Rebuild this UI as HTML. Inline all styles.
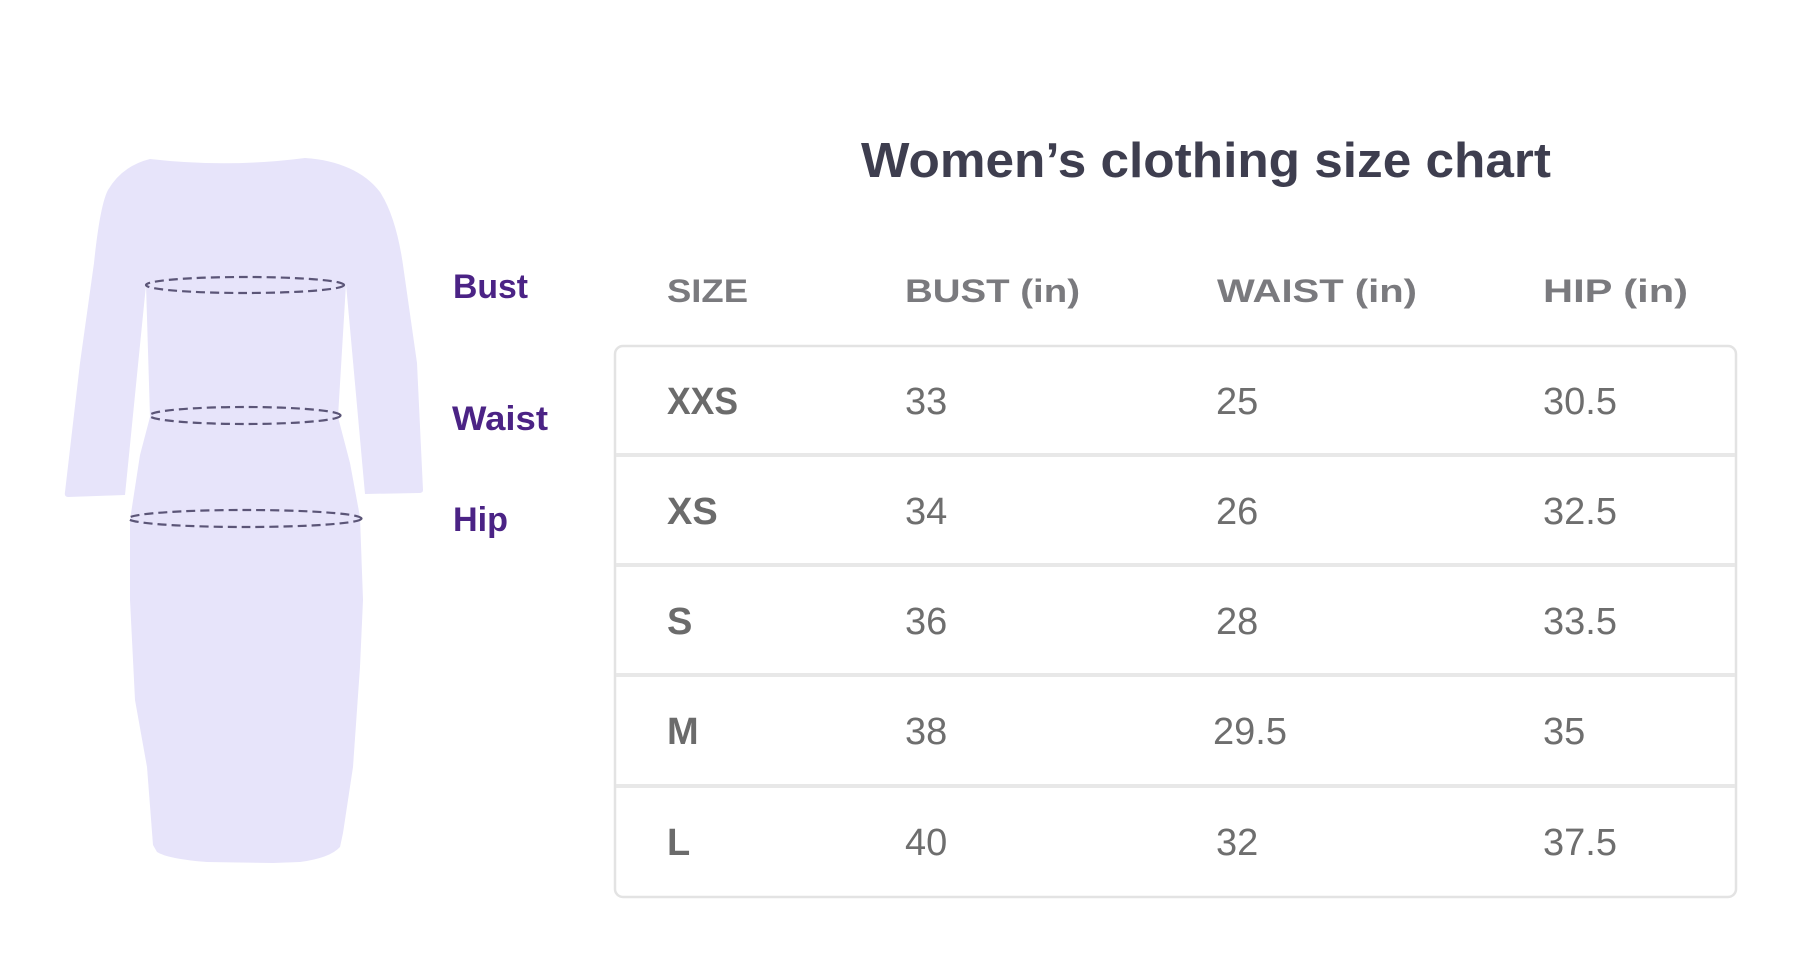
<!DOCTYPE html>
<html>
<head>
<meta charset="utf-8">
<style>
  html, body { margin: 0; padding: 0; background: #ffffff; }
  body { width: 1800px; height: 960px; overflow: hidden; }
  svg { display: block; }
  .hdr { font-family: "Liberation Sans", sans-serif; font-weight: bold; font-size: 32px; fill: #7a7a7e; }
  .sz { font-family: "Liberation Sans", sans-serif; font-weight: bold; font-size: 38px; fill: #6b6b6b; }
  .num { font-family: "Liberation Sans", sans-serif; font-size: 38px; fill: #6e6e6e; }
  .lbl { font-family: "Liberation Sans", sans-serif; font-weight: bold; font-size: 34px; fill: #4b2385; }
  .title { font-family: "Liberation Sans", sans-serif; font-weight: bold; font-size: 49px; fill: #3e3e4f; }
</style>
</head>
<body>
<svg width="1800" height="960" viewBox="0 0 1800 960" xmlns="http://www.w3.org/2000/svg">
  <rect x="0" y="0" width="1800" height="960" fill="#ffffff"/>

  <!-- Dress -->
  <path fill="#e7e4fa" d="
    M150,159
    Q228,168 305,158
    C338,160 365,172 380,192
    Q397,218 404,272
    L417,363
    L423,490
    Q423,493 419,493
    L365,494
    L346,284
    L338,417
    L350,463
    L360,517
    L363,600
    L360,667
    L353,767
    L343,833
    L340,847
    Q330,858 300,862
    L273,863
    L207,862
    Q168,859 157,852
    L153,845
    L147,767
    L135,700
    L130,600
    L130,520
    L140,455
    L150,417
    L146,285
    L125,495
    L68,497
    Q64,497 65,492
    L80,363
    L94,263
    Q100,205 108,190
    Q122,166 150,159 Z"/>

  <!-- Measurement ellipses -->
  <g fill="none" stroke="#5b5577" stroke-width="2.2" stroke-dasharray="9 5">
    <ellipse cx="245" cy="285" rx="99" ry="8"/>
    <ellipse cx="245" cy="415.5" rx="95.5" ry="8.5"/>
    <ellipse cx="245" cy="518.5" rx="116.5" ry="8.5"/>
  </g>

  <!-- Labels -->
  <text class="lbl" x="453" y="298" textLength="75" lengthAdjust="spacingAndGlyphs">Bust</text>
  <text class="lbl" x="452" y="430" textLength="96" lengthAdjust="spacingAndGlyphs">Waist</text>
  <text class="lbl" x="453" y="531" textLength="55" lengthAdjust="spacingAndGlyphs">Hip</text>

  <!-- Title -->
  <text class="title" x="861" y="177" textLength="690" lengthAdjust="spacingAndGlyphs">Women’s clothing size chart</text>

  <!-- Header -->
  <text class="hdr" x="667" y="302" textLength="81" lengthAdjust="spacingAndGlyphs">SIZE</text>
  <text class="hdr" x="905" y="302" textLength="175" lengthAdjust="spacingAndGlyphs">BUST (in)</text>
  <text class="hdr" x="1217" y="302" textLength="200" lengthAdjust="spacingAndGlyphs">WAIST (in)</text>
  <text class="hdr" x="1543" y="302" textLength="145" lengthAdjust="spacingAndGlyphs">HIP (in)</text>

  <!-- Table -->
  <rect x="615" y="346" width="1121" height="551" rx="8" ry="8" fill="#ffffff" stroke="#e3e3e3" stroke-width="2.5"/>
  <g stroke="#e8e8e8" stroke-width="4">
    <line x1="616" y1="455" x2="1735" y2="455"/>
    <line x1="616" y1="565" x2="1735" y2="565"/>
    <line x1="616" y1="675" x2="1735" y2="675"/>
    <line x1="616" y1="786" x2="1735" y2="786"/>
  </g>

  <!-- Rows -->
  <text class="sz" x="667" y="414" textLength="71" lengthAdjust="spacingAndGlyphs">XXS</text>
  <text class="num" x="905" y="414">33</text>
  <text class="num" x="1216" y="414">25</text>
  <text class="num" x="1543" y="414">30.5</text>

  <text class="sz" x="667" y="524">XS</text>
  <text class="num" x="905" y="524">34</text>
  <text class="num" x="1216" y="524">26</text>
  <text class="num" x="1543" y="524">32.5</text>

  <text class="sz" x="667" y="634">S</text>
  <text class="num" x="905" y="634">36</text>
  <text class="num" x="1216" y="634">28</text>
  <text class="num" x="1543" y="634">33.5</text>

  <text class="sz" x="667" y="744">M</text>
  <text class="num" x="905" y="744">38</text>
  <text class="num" x="1213" y="744">29.5</text>
  <text class="num" x="1543" y="744">35</text>

  <text class="sz" x="667" y="855">L</text>
  <text class="num" x="905" y="855">40</text>
  <text class="num" x="1216" y="855">32</text>
  <text class="num" x="1543" y="855">37.5</text>
</svg>
</body>
</html>
